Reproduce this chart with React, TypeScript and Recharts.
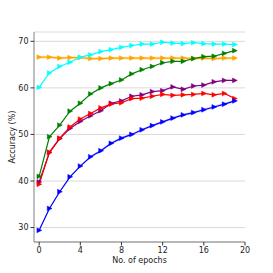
import { ComposedChart, Line, Area, XAxis, YAxis, CartesianGrid } from 'recharts'

const epochs = [0, 1, 2, 3, 4, 5, 6, 7, 8, 9, 10, 11, 12, 13, 14, 15, 16, 17, 18, 19]
const xTicks = [0, 4, 8, 12, 16, 20]
const yTicks = [30, 40, 50, 60, 70]

const cyanAcc = [60.1, 63.2, 64.6, 65.5, 66.6, 67.1, 67.8, 68.2, 68.7, 69.1, 69.4, 69.4, 69.8, 69.6, 69.5, 69.7, 69.5, 69.4, 69.4, 69.3]
const orangeAcc = [66.6, 66.6, 66.4, 66.5, 66.5, 66.3, 66.3, 66.4, 66.4, 66.4, 66.4, 66.4, 66.4, 66.4, 66.4, 66.3, 66.4, 66.3, 66.4, 66.4]
const greenAcc = [41.0, 49.5, 52.0, 55.0, 56.7, 58.7, 60.0, 60.9, 61.7, 63.0, 63.9, 64.6, 65.4, 65.7, 65.7, 66.3, 66.7, 66.8, 67.4, 68.0]
const purpleAcc = [39.8, 46.1, 49.1, 51.3, 52.8, 54.0, 55.1, 56.7, 57.2, 58.2, 58.5, 59.2, 59.4, 60.2, 59.7, 60.4, 60.6, 61.3, 61.6, 61.6]
const redAcc = [39.3, 46.2, 49.2, 51.6, 53.3, 54.5, 55.7, 56.5, 56.8, 57.7, 57.8, 58.2, 58.6, 58.4, 58.5, 58.6, 58.8, 58.5, 58.8, 57.7]
const blueAcc = [29.4, 34.1, 37.7, 40.9, 43.2, 45.2, 46.5, 48.1, 49.2, 50.0, 51.0, 51.9, 52.7, 53.5, 54.2, 54.7, 55.3, 55.9, 56.5, 57.2]

// std bands
const orangeStd = [0.3, 0.3, 0.3, 0.3, 0.3, 0.3, 0.3, 0.3, 0.3, 0.3, 0.3, 0.3, 0.3, 0.3, 0.3, 0.3, 0.3, 0.3, 0.3, 0.3]
const blueStd = [0.2, 0.2, 0.2, 0.2, 0.2, 0.2, 0.3, 0.3, 0.3, 0.3, 0.3, 0.3, 0.3, 0.3, 0.3, 0.3, 0.3, 0.3, 0.3, 0.3]

const data = epochs.map((e, i) => ({
  epoch: e,
  cyan: cyanAcc[i],
  orange: orangeAcc[i],
  green: greenAcc[i],
  purple: purpleAcc[i],
  red: redAcc[i],
  blue: blueAcc[i],
  orangeBand: [orangeAcc[i] - orangeStd[i], orangeAcc[i] + orangeStd[i]],
  blueBand: [blueAcc[i] - blueStd[i], blueAcc[i] + blueStd[i]],
}))

const tri = (color: string) => (props: any) => {
  const { cx, cy, index } = props
  if (cx == null || cy == null) return <g key={index} />
  return (
    <polygon
      key={index}
      points={`${cx - 2.2},${cy - 2.4} ${cx + 2.6},${cy} ${cx - 2.2},${cy + 2.4}`}
      fill={color}
      stroke={color}
      strokeWidth={0.5}
    />
  )
}

const font = { fontFamily: 'DejaVu Sans', fontSize: 8, fill: '#222' }

const series = [
  { key: 'orange', color: '#ffa500' },
  { key: 'cyan', color: '#00ffff' },
  { key: 'green', color: '#008000' },
  { key: 'purple', color: '#800080' },
  { key: 'red', color: '#ff0000' },
  { key: 'blue', color: '#0000ff' },
]

export default function App() {
  return (
    <div style={{ position: 'absolute', left: 0, top: 0, width: 273, height: 273, background: '#fff' }}>
      <ComposedChart width={273} height={273} data={data} margin={{ top: 32, right: 28, bottom: 0, left: 0 }}>
        <CartesianGrid vertical={false} stroke="#dadada" strokeWidth={1} />
        <XAxis
          dataKey="epoch"
          type="number"
          domain={[-0.5, 20]}
          ticks={xTicks}
          allowDataOverflow
          height={31}
          tickSize={3.5}
          tick={font}
          stroke="#808080"
          tickLine={{ stroke: '#333' }}
          label={{ value: 'No. of epochs', position: 'insideBottom', offset: 10, style: { ...font, fontSize: 8 } }}
        />
        <XAxis xAxisId="top" orientation="top" dataKey="epoch" type="number" domain={[-0.5, 20]} height={0} tick={false} tickLine={false} stroke="#808080" />
        <YAxis
          type="number"
          domain={[26.9, 72]}
          ticks={yTicks}
          allowDataOverflow
          width={34}
          tickSize={3.5}
          tick={font}
          stroke="#808080"
          tickLine={{ stroke: '#333' }}
          label={{ value: 'Accuracy (%)', angle: -90, position: 'insideLeft', offset: 12, style: { ...font, textAnchor: 'middle' } }}
        />
        <YAxis yAxisId="right" orientation="right" domain={[26.9, 72]} width={0} tick={false} tickLine={false} stroke="#808080" />
        <Area dataKey="orangeBand" stroke="none" fill="#ffa500" fillOpacity={0.3} isAnimationActive={false} />
        <Area dataKey="blueBand" stroke="none" fill="#0000ff" fillOpacity={0.15} isAnimationActive={false} />
        {series.map((s) => (
          <Line
            key={s.key}
            dataKey={s.key}
            stroke={s.color}
            strokeWidth={1.2}
            dot={tri(s.color)}
            activeDot={false}
            isAnimationActive={false}
          />
        ))}
      </ComposedChart>
    </div>
  )
}
